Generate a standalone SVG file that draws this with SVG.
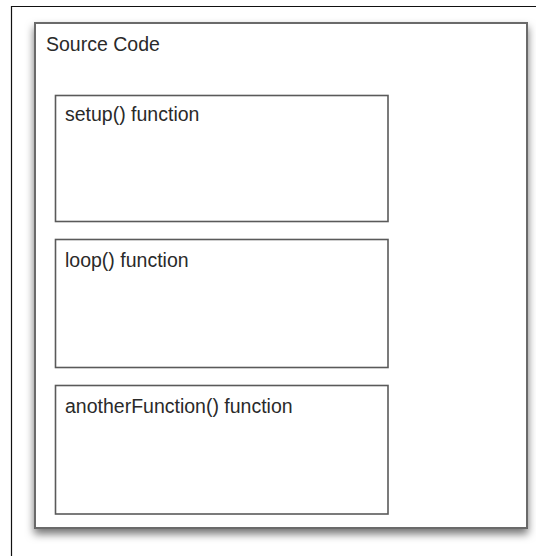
<svg xmlns="http://www.w3.org/2000/svg" width="536" height="556" viewBox="0 0 536 556">
<defs>
<filter id="shadow" x="-10%" y="-10%" width="120%" height="125%">
<feDropShadow dx="0" dy="5" stdDeviation="4" flood-color="#000" flood-opacity="0.55"/>
</filter>
<style>
.outer{fill:#fff;stroke:#6a6a6a;stroke-width:2}
.inner{fill:#fff;stroke:#5a5a5a;stroke-width:1.6}
.lbl{font-family:"Liberation Sans",Arial,sans-serif;font-size:19.5px;fill:#2a2a2a}
</style>
</defs>
<rect x="0" y="0" width="536" height="556" fill="#fff"/>
<path d="M11.5,556 V6.5 H536" fill="none" stroke="#111" stroke-width="1.2"/>
<g id="source-code">
<rect class="outer" x="35" y="23" width="492" height="505" filter="url(#shadow)"/>
<text class="lbl" x="46" y="51">Source Code</text>
</g>
<g id="setup">
<rect class="inner" x="55.5" y="95.5" width="332.5" height="126"/>
<text class="lbl" x="65" y="121">setup() function</text>
</g>
<g id="loop">
<rect class="inner" x="55.5" y="239.5" width="332.5" height="128"/>
<text class="lbl" x="65" y="267">loop() function</text>
</g>
<g id="anotherFunction">
<rect class="inner" x="55.5" y="385.5" width="332.5" height="128.5"/>
<text class="lbl" x="65" y="413">anotherFunction() function</text>
</g>
<g id="connectors"/>
</svg>
